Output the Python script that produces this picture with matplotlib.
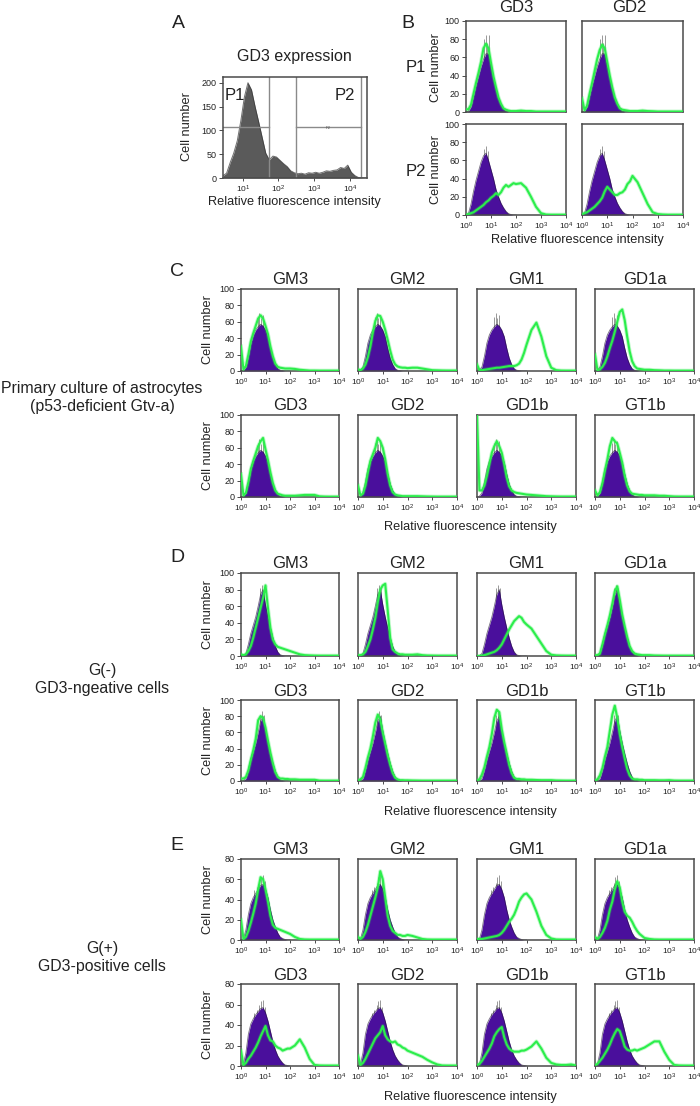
from matplotlib import pyplot as plt


# --------------------------------------------------------------------------------------------------------------------
# data: decades of fluorescence along x, cell number along y

PURPLE_X = [0.0, 0.1, 0.2, 0.3, 0.4, 0.5, 0.6, 0.7, 0.8, 0.9, 1.0,
            1.1, 1.2, 1.3, 1.4, 1.5, 1.6, 1.7, 1.8, 1.9, 2.0]

GREEN_X = [0.0, 0.1, 0.2, 0.3, 0.4, 0.5, 0.6, 0.7, 0.8, 0.9, 1.0,
           1.1, 1.2, 1.3, 1.4, 1.5, 1.6, 1.7, 1.8, 1.9, 2.0,
           2.2, 2.4, 2.6, 2.8, 3.0, 3.2, 3.4, 3.6, 3.8, 4.0]

A_X = [0.0, 0.1, 0.2, 0.3, 0.4, 0.5, 0.6, 0.7, 0.8, 0.9, 1.0, 1.1, 1.2, 1.3, 1.4, 1.5, 1.6, 1.7, 1.8, 1.9, 2.0,
       2.1, 2.2, 2.3, 2.4, 2.5, 2.6, 2.7, 2.8, 2.9, 3.0, 3.1, 3.2, 3.3, 3.4, 3.5, 3.6, 3.7, 3.8, 3.9, 4.0]
A_Y = [5, 10, 32, 52, 78, 120, 170, 200, 185, 150, 118, 85, 52, 38, 46, 44, 37, 30, 24, 15, 11,
       9, 10, 8, 11, 10, 12, 10, 12, 15, 14, 16, 17, 22, 20, 27, 12, 5, 1, 0.5, 0]

# isotype controls
B_P1_CTRL = [0, 1, 6, 18, 30, 40, 50, 58, 64, 64, 50, 37, 25, 15, 8, 3, 1, 0, 0, 0, 0]
B_P2_CTRL = [0, 2, 12, 26, 38, 48, 58, 65, 68, 60, 50, 40, 28, 20, 13, 8, 4, 1.5, 0.5, 0, 0]
C_CTRL = [0, 1, 5, 18, 34, 44, 50, 54, 57, 55, 50, 42, 28, 16, 8, 3, 1, 0.5, 0, 0, 0]
D_CTRL = [0, 0.5, 3, 14, 27, 37, 47, 60, 74, 80, 62, 47, 34, 22, 12, 5, 1.5, 0.5, 0, 0, 0]
E_TOP_CTRL = [0, 1, 10, 25, 36, 42, 46, 50, 54, 55, 50, 42, 30, 20, 13, 7, 3, 1.5, 0.5, 0, 0]
E_BOT_CTRL = [0, 2, 13, 31, 41, 46, 50, 53, 56, 57, 52, 44, 34, 24, 16, 10, 6, 3, 1, 0.5, 0]

# noisy tips above the control peak
B_P1_SPIKE_X = [0.7, 0.78, 0.85, 0.92]
B_P1_SPIKE_Y = [80, 85, 76, 85]
B_P2_SPIKE_X = [0.7, 0.78, 0.86]
B_P2_SPIKE_Y = [72, 76, 70]
C_SPIKE_X = [0.68, 0.75, 0.82, 0.9]
C_SPIKE_Y = [66, 71, 65, 68]
D_SPIKE_X = [0.78, 0.85, 0.92]
D_SPIKE_Y = [82, 86, 82]
E_TOP_SPIKE_X = [0.55, 0.65, 0.75, 0.82, 0.9, 0.97]
E_TOP_SPIKE_Y = [49, 52, 56, 62, 64, 58]
E_BOT_SPIKE_X = [0.55, 0.65, 0.75, 0.82, 0.9, 0.97]
E_BOT_SPIKE_Y = [52, 55, 60, 63, 64, 58]

# stained samples
B_P1_GD3 = [3, 3, 8, 20, 32, 43, 55, 70, 75, 70, 54, 39, 27, 16, 9, 4, 2.5, 1.5, 1, 1, 1,
            1.5, 1, 1, 0.5, 0.5, 0.5, 0.5, 0.5, 0.5, 0.5]
B_P1_GD2 = [15, 2, 7, 20, 32, 45, 58, 68, 74, 70, 55, 40, 27, 16, 9, 4, 2.5, 2, 1.5, 1, 1,
            1, 1.5, 1, 0.8, 0.5, 0.5, 0.5, 0.5, 0.5, 0.5]
B_P2_GD3 = [0, 1, 2, 3, 5, 7, 9, 11, 14, 16, 19, 21, 24, 22, 25, 30, 33, 31, 33, 35, 34,
            35, 30, 20, 9, 2, 0.5, 0.3, 0.3, 0.3, 0.3]
B_P2_GD2 = [1, 2, 3, 5, 7, 9, 12, 15, 19, 26, 31, 28, 25, 22, 22, 24, 25, 28, 34, 37, 43,
            36, 24, 12, 3, 1, 0.5, 0.3, 0.3, 0.3, 0.3]

C_GM3 = [30, 2, 6, 20, 36, 46, 55, 64, 68, 64, 55, 45, 30, 18, 9, 5, 4, 3.5, 3, 3, 3,
         2.5, 1.5, 1, 0.5, 0.5, 0.4, 0.4, 0.4, 0.4, 0.4]
C_GM2 = [2, 1, 3, 8, 17, 30, 47, 61, 68, 67, 60, 50, 38, 25, 14, 8, 5.5, 4.5, 4, 4, 3.5,
         4, 4, 3, 2, 1, 0.8, 0.6, 0.5, 0.5, 0.5]
C_GM1 = [8, 1, 1, 1.5, 2, 2.5, 3, 3.5, 4, 4, 4.5, 5, 5.5, 6, 6, 6, 7, 9, 14, 22, 32,
         50, 59, 42, 18, 4, 1, 0.5, 0.4, 0.4, 0.4]
C_GD1A = [20, 1, 2, 5, 10, 18, 28, 37, 48, 60, 72, 75, 62, 42, 24, 12, 6, 3, 2.5, 2, 1.5,
          1.5, 1, 0.8, 0.5, 0.5, 0.4, 0.4, 0.4, 0.4, 0.4]
C_GD3 = [28, 2, 5, 18, 34, 44, 53, 62, 68, 72, 58, 45, 30, 17, 8, 4, 3, 2, 1.5, 1.5, 1.5,
         1.5, 2, 2.5, 2.5, 2.5, 0.8, 0.5, 0.4, 0.4, 0.4]
C_GD2 = [14, 2, 4, 14, 30, 44, 52, 60, 72, 68, 60, 46, 28, 14, 6, 3, 2, 1.5, 1, 1, 1,
         1, 1, 0.8, 0.6, 0.5, 0.4, 0.4, 0.4, 0.4, 0.4]
C_GD1B = [100, 8, 8, 14, 26, 40, 54, 62, 68, 62, 54, 40, 24, 13, 8, 6, 5, 4.5, 4, 3.5, 3,
          2.5, 2, 1.5, 1, 0.8, 0.6, 0.5, 0.5, 0.5, 0.5]
C_GT1B = [8, 2, 6, 17, 32, 46, 62, 72, 68, 65, 54, 42, 26, 14, 7, 4, 3.5, 3, 2.5, 2.5, 2,
          2, 2, 1.5, 1.5, 1, 0.6, 0.5, 0.5, 0.5, 0.5]

D_GM3 = [2, 1, 2, 6, 12, 22, 34, 46, 58, 70, 85, 58, 34, 20, 14, 11, 10, 9, 8, 7, 6,
         4, 2, 1, 0.7, 0.5, 0.4, 0.4, 0.4, 0.4, 0.4]
D_GM2 = [1, 1, 2, 5, 12, 20, 32, 46, 65, 80, 85, 87, 55, 22, 8, 5, 3, 2, 2, 1.5, 1.5,
         1.5, 2, 1, 0.6, 0.5, 0.4, 0.4, 0.4, 0.4, 0.4]
D_GM1 = [0, 0, 0.5, 1, 2, 3, 4, 5, 7, 10, 14, 20, 26, 32, 37, 42, 45, 48, 46, 41, 38,
         33, 24, 15, 6, 1.5, 0.7, 0.5, 0.4, 0.4, 0.4]
D_GD1A = [1, 1, 3, 14, 26, 37, 49, 63, 78, 84, 68, 50, 36, 23, 12, 6, 3, 2, 1.5, 1, 1,
          1, 0.6, 0.5, 0.4, 0.4, 0.4, 0.4, 0.4, 0.4, 0.4]
D_GD3 = [3, 3, 5, 13, 26, 38, 52, 75, 80, 78, 66, 50, 35, 22, 11, 5, 3, 3, 2.5, 2.5, 2,
         2, 1.5, 1.5, 1.5, 1.5, 0.5, 0.4, 0.4, 0.4, 0.4]
D_GD2 = [1, 2, 5, 16, 29, 40, 55, 72, 82, 76, 60, 46, 32, 20, 10, 4, 2, 1, 1, 0.8, 0.8,
         0.6, 0.5, 0.4, 0.4, 0.4, 0.4, 0.4, 0.4, 0.4, 0.4]
D_GD1B = [1, 2, 8, 17, 30, 42, 58, 78, 88, 85, 64, 48, 34, 20, 10, 4, 2.5, 2.5, 2, 2, 1.5,
          1.5, 1.2, 1, 1, 1, 0.6, 0.5, 0.4, 0.4, 0.4]
D_GT1B = [1, 2, 7, 16, 30, 42, 62, 82, 93, 78, 58, 42, 28, 15, 7, 3, 2, 2, 1.5, 1.5, 1,
          1, 1, 0.8, 0.8, 1, 0.5, 0.4, 0.4, 0.4, 0.4]

E_GM3 = [20, 1, 3, 9, 17, 26, 36, 50, 62, 60, 50, 38, 24, 15, 12, 11, 10, 9, 8, 7, 6,
         3, 1, 0.5, 0.4, 0.4, 0.4, 0.4, 0.4, 0.4, 0.4]
E_GM2 = [3, 1, 3, 8, 15, 24, 33, 42, 52, 68, 60, 42, 24, 14, 9, 7, 5, 5, 4, 4, 5,
         4, 2.5, 1, 0.5, 0.4, 0.4, 0.4, 0.4, 0.4, 0.4]
E_GM1 = [1, 1, 1, 1.5, 2, 2.5, 3, 3.5, 4, 5, 7, 10, 14, 18, 21, 25, 31, 38, 42, 45, 46,
         40, 28, 14, 5, 1.5, 0.5, 0.4, 0.4, 0.4, 0.4]
E_GD1A = [3, 1, 3, 7, 12, 19, 30, 38, 50, 58, 52, 38, 28, 24, 22, 18, 13, 9, 6, 4, 2,
          1, 0.5, 0.4, 0.4, 0.4, 0.4, 0.4, 0.4, 0.4, 0.4]
E_GD3 = [15, 1, 3, 7, 10, 14, 18, 23, 29, 34, 39, 30, 25, 24, 20, 18, 17, 15, 16, 17, 17,
         20, 26, 18, 7, 1, 0.5, 0.4, 0.4, 0.4, 0.4]
E_GD2 = [10, 1, 3, 7, 12, 17, 22, 27, 30, 33, 39, 30, 26, 24, 23, 24, 21, 20, 18, 17, 15,
         13, 11, 9, 6, 3.5, 1.5, 0.5, 0.4, 0.4, 0.4]
E_GD1B = [1, 2, 5, 9, 13, 17, 22, 29, 33, 36, 38, 28, 21, 17, 15, 14, 14, 14, 15, 15, 16,
          19, 24, 17, 8, 3, 1.5, 1, 1, 1.5, 0.5]
E_GT1B = [1, 2, 5, 8, 12, 16, 21, 27, 32, 36, 34, 27, 19, 16, 15, 15, 16, 15, 16, 17, 18,
          21, 24, 24, 14, 6, 1, 0.5, 0.4, 0.4, 0.4]

DECADE_TICKS = [0, 1, 2, 3, 4]
DECADE_LABELS = ['$10^{0}$', '$10^{1}$', '$10^{2}$', '$10^{3}$', '$10^{4}$']
A_TICKS = [0.56, 1.55, 2.56, 3.57]
A_LABELS = ['$10^{1}$', '$10^{2}$', '$10^{3}$', '$10^{4}$']
A_YTICKS = [0, 50, 100, 150, 200]
PCT_YTICKS = [0, 20, 40, 60, 80, 100]
E_YTICKS = [0, 20, 40, 60, 80]


# --------------------------------------------------------------------------------------------------------------------

W, H = 700, 1106

PURPLE = '#4a0f9c'
GREEN = '#2bee4b'
FRAME = '#4a4a4a'
TEXT = '#222222'

TITLE_SIZE = 12
LETTER_SIZE = 14
AXIS_SIZE = 9.2

plt.rcParams['font.family'] = ['Liberation Sans', 'DejaVu Sans']
plt.rcParams['mathtext.default'] = 'regular'

fig = plt.figure(figsize=(W / 100, H / 100), dpi=100, facecolor='white')


def new_axes(left, right, top, bottom):
    ax = fig.add_axes([left / W, 1 - bottom / H, (right - left) / W, (bottom - top) / H])

    for spine in ax.spines.values():
        spine.set_color(FRAME)
        spine.set_linewidth(1.1)

    return ax


def label(x, y, text, size=TITLE_SIZE, **kwargs):
    fig.text(x / W, 1 - y / H, text, fontsize=size, color=TEXT, ha='center', va='center', **kwargs)


def panel(box, ctrl, spike_x, spike_y, green, y_max, y_ticks, x_labels=True):
    ax = new_axes(*box)

    ax.vlines(spike_x, 0, spike_y, color='#555555', linewidth=0.6, alpha=0.7, zorder=1)
    ax.fill_between(PURPLE_X, ctrl, 0, color=PURPLE, linewidth=0, zorder=2)
    ax.plot(PURPLE_X, ctrl, color='#1c1030', linewidth=0.6, alpha=0.6, zorder=2)

    ax.plot(GREEN_X, green, color=GREEN, linewidth=2.8, alpha=0.3, solid_joinstyle='round', zorder=3)
    ax.plot(GREEN_X, green, color=GREEN, linewidth=1.5, solid_joinstyle='round', zorder=3)

    ax.set_xlim(0, 4)
    ax.set_ylim(0, y_max)

    if x_labels:
        ax.set_xticks(DECADE_TICKS)
        ax.set_xticklabels(DECADE_LABELS, fontsize=6, color=TEXT)
        ax.tick_params(axis='x', length=2, width=0.7, pad=2, color=FRAME)
    else:
        ax.set_xticks([])

    if y_ticks is None:
        ax.set_yticks([])
    else:
        ax.set_yticks(y_ticks)
        ax.tick_params(axis='y', labelsize=6.5, labelcolor=TEXT, length=3, width=0.7, pad=1.5, color=FRAME)

    return ax


# --------------------------------------------------------------------------------------------------------------------
# A

ax_a = new_axes(223, 367, 77, 178)
ax_a.fill_between(A_X, A_Y, 0, color='#5a5a5a', linewidth=0)
ax_a.plot(A_X, A_Y, color='#333333', linewidth=0.7, alpha=0.7)

ax_a.set_xlim(0, 4.04)
ax_a.set_ylim(0, 212)
ax_a.set_xticks(A_TICKS)
ax_a.set_xticklabels(A_LABELS, fontsize=6, color=TEXT)
ax_a.set_yticks(A_YTICKS)
ax_a.tick_params(axis='x', length=2, width=0.7, pad=2, color=FRAME)
ax_a.tick_params(axis='y', labelsize=6.5, labelcolor=TEXT, length=3, width=0.7, pad=1.5, color=FRAME)

# gates
for gate_x in [1.29, 2.05, 3.87]:
    ax_a.axvline(gate_x, color='#8a8a8a', linewidth=1)

ax_a.plot([0, 1.29], [107, 107], color='#8a8a8a', linewidth=1)
ax_a.plot([2.05, 3.87], [107, 107], color='#8a8a8a', linewidth=1)
ax_a.text(2.95, 105, 'P2', fontsize=3, color='#555555', ha='center', va='center')

label(178, 24, 'A', size=LETTER_SIZE)
label(294, 57, 'GD3 expression', size=11.5)
label(187, 127, 'Cell number', size=AXIS_SIZE, rotation=90)
label(294, 202, 'Relative fluorescence intensity', size=AXIS_SIZE)
label(235, 95, 'P1')
label(345, 95, 'P2')


# --------------------------------------------------------------------------------------------------------------------
# B

panel((466, 566, 21, 112), B_P1_CTRL, B_P1_SPIKE_X, B_P1_SPIKE_Y, B_P1_GD3, 100, PCT_YTICKS, x_labels=False)
panel((582, 683, 21, 112), B_P1_CTRL, B_P1_SPIKE_X, B_P1_SPIKE_Y, B_P1_GD2, 100, None, x_labels=False)
panel((466, 566, 124, 215), B_P2_CTRL, B_P2_SPIKE_X, B_P2_SPIKE_Y, B_P2_GD3, 100, PCT_YTICKS)
panel((582, 683, 124, 215), B_P2_CTRL, B_P2_SPIKE_X, B_P2_SPIKE_Y, B_P2_GD2, 100, None)

label(408, 23, 'B', size=LETTER_SIZE)
label(516, 7, 'GD3')
label(629, 7, 'GD2')
label(416, 67, 'P1')
label(416, 171, 'P2')
label(436, 68, 'Cell number', size=AXIS_SIZE, rotation=90)
label(436, 170, 'Cell number', size=AXIS_SIZE, rotation=90)
label(577, 240, 'Relative fluorescence intensity', size=AXIS_SIZE)


# --------------------------------------------------------------------------------------------------------------------
# C, D, E

COLUMNS = [(241, 339), (358, 457), (477, 576), (595, 694)]
TOP_NAMES = ['GM3', 'GM2', 'GM1', 'GD1a']
BOTTOM_NAMES = ['GD3', 'GD2', 'GD1b', 'GT1b']


def group(letter, letter_y, rows, y_max, y_ticks, xlabel_y):
    label(177, letter_y, letter, size=LETTER_SIZE)

    for top, bottom, names, ctrl, spike_x, spike_y, greens in rows:
        for i, (left, right) in enumerate(COLUMNS):
            panel((left, right, top, bottom), ctrl, spike_x, spike_y, greens[i], y_max,
                  y_ticks if i == 0 else None)
            label((left + right) / 2, top - 9, names[i])

        label(208, (top + bottom) / 2, 'Cell number', size=AXIS_SIZE, rotation=90)

    label(470, xlabel_y, 'Relative fluorescence intensity', size=AXIS_SIZE)


group('C', 272,
      [(289, 371, TOP_NAMES, C_CTRL, C_SPIKE_X, C_SPIKE_Y, [C_GM3, C_GM2, C_GM1, C_GD1A]),
       (415, 497, BOTTOM_NAMES, C_CTRL, C_SPIKE_X, C_SPIKE_Y, [C_GD3, C_GD2, C_GD1B, C_GT1B])],
      100, PCT_YTICKS, 527)

group('D', 558,
      [(573, 656, TOP_NAMES, D_CTRL, D_SPIKE_X, D_SPIKE_Y, [D_GM3, D_GM2, D_GM1, D_GD1A]),
       (700, 781, BOTTOM_NAMES, D_CTRL, D_SPIKE_X, D_SPIKE_Y, [D_GD3, D_GD2, D_GD1B, D_GT1B])],
      100, PCT_YTICKS, 812)

group('E', 846,
      [(859, 940, TOP_NAMES, E_TOP_CTRL, E_TOP_SPIKE_X, E_TOP_SPIKE_Y, [E_GM3, E_GM2, E_GM1, E_GD1A]),
       (984, 1066, BOTTOM_NAMES, E_BOT_CTRL, E_BOT_SPIKE_X, E_BOT_SPIKE_Y, [E_GD3, E_GD2, E_GD1B, E_GT1B])],
      80, E_YTICKS, 1097)

label(102, 388, 'Primary culture of astrocytes', size=11.4)
label(102, 406, '(p53-deficient Gtv-a)', size=11.4)
label(102, 670, 'G(-)', size=11.4)
label(102, 688, 'GD3-ngeative cells', size=11.4)
label(102, 948, 'G(+)', size=11.4)
label(102, 967, 'GD3-positive cells', size=11.4)

fig.savefig('out.png', dpi=100, facecolor='white')
